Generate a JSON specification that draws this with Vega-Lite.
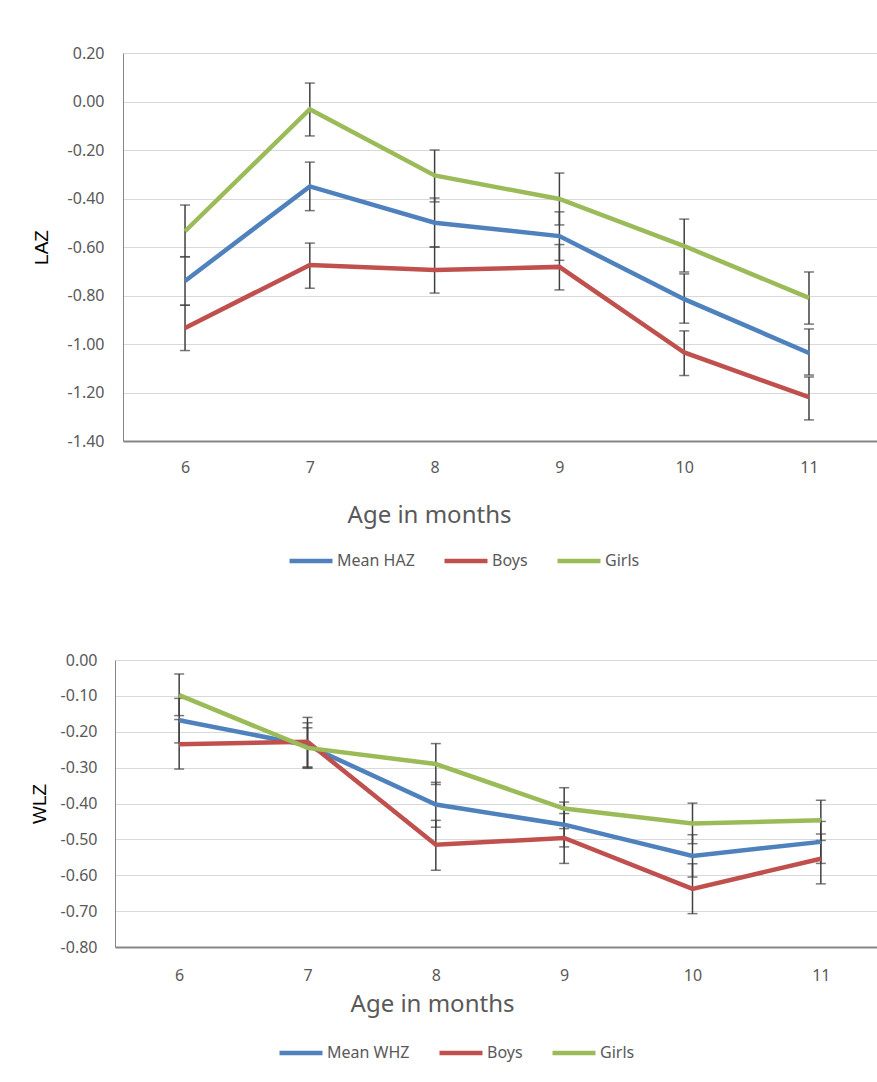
{
  "$schema": "https://vega.github.io/schema/vega-lite/v6.json",
  "padding": {"left": 30, "top": 45, "right": 0, "bottom": 0},
  "background": "white",
  "spacing": 82,
  "columns": 1,
  "align": "all",
  "center": true,
  "config": {
    "locale": {"number": {"decimal": ".", "thousands": ",", "grouping": [3], "currency": ["$", ""], "minus": "-"}},
    "view": {"stroke": null},
    "font": "Noto Sans",
    "axis": {"labelColor": "#595959", "labelFontSize": 16, "ticks": false, "gridColor": "#d9d9d9", "domainColor": "#868686", "labelOverlap": false}
  },
  "datasets": {
    "laz": [
      {"age": 6, "series": "Mean HAZ", "value": -0.74, "lo": -0.84, "hi": -0.64},
      {"age": 7, "series": "Mean HAZ", "value": -0.35, "lo": -0.45, "hi": -0.25},
      {"age": 8, "series": "Mean HAZ", "value": -0.50, "lo": -0.60, "hi": -0.398},
      {"age": 9, "series": "Mean HAZ", "value": -0.555, "lo": -0.655, "hi": -0.455},
      {"age": 10, "series": "Mean HAZ", "value": -0.815, "lo": -0.914, "hi": -0.711},
      {"age": 11, "series": "Mean HAZ", "value": -1.037, "lo": -1.128, "hi": -0.938},
      {"age": 6, "series": "Boys", "value": -0.934, "lo": -1.027, "hi": -0.84},
      {"age": 7, "series": "Boys", "value": -0.674, "lo": -0.77, "hi": -0.584},
      {"age": 8, "series": "Boys", "value": -0.695, "lo": -0.79, "hi": -0.60},
      {"age": 9, "series": "Boys", "value": -0.682, "lo": -0.777, "hi": -0.59},
      {"age": 10, "series": "Boys", "value": -1.035, "lo": -1.13, "hi": -0.946},
      {"age": 11, "series": "Boys", "value": -1.219, "lo": -1.313, "hi": -1.136},
      {"age": 6, "series": "Girls", "value": -0.535, "lo": -0.641, "hi": -0.427},
      {"age": 7, "series": "Girls", "value": -0.032, "lo": -0.142, "hi": 0.076},
      {"age": 8, "series": "Girls", "value": -0.305, "lo": -0.414, "hi": -0.20},
      {"age": 9, "series": "Girls", "value": -0.402, "lo": -0.509, "hi": -0.295},
      {"age": 10, "series": "Girls", "value": -0.596, "lo": -0.703, "hi": -0.485},
      {"age": 11, "series": "Girls", "value": -0.81, "lo": -0.918, "hi": -0.703}
    ],
    "wlz": [
      {"age": 6, "series": "Mean WHZ", "value": -0.168, "lo": -0.231, "hi": -0.107},
      {"age": 7, "series": "Mean WHZ", "value": -0.238, "lo": -0.298, "hi": -0.175},
      {"age": 8, "series": "Mean WHZ", "value": -0.403, "lo": -0.466, "hi": -0.341},
      {"age": 9, "series": "Mean WHZ", "value": -0.459, "lo": -0.521, "hi": -0.396},
      {"age": 10, "series": "Mean WHZ", "value": -0.546, "lo": -0.605, "hi": -0.487},
      {"age": 11, "series": "Mean WHZ", "value": -0.507, "lo": -0.567, "hi": -0.45},
      {"age": 6, "series": "Boys", "value": -0.235, "lo": -0.304, "hi": -0.166},
      {"age": 7, "series": "Boys", "value": -0.228, "lo": -0.30, "hi": -0.16},
      {"age": 8, "series": "Boys", "value": -0.515, "lo": -0.586, "hi": -0.447},
      {"age": 9, "series": "Boys", "value": -0.496, "lo": -0.567, "hi": -0.428},
      {"age": 10, "series": "Boys", "value": -0.638, "lo": -0.707, "hi": -0.568},
      {"age": 11, "series": "Boys", "value": -0.554, "lo": -0.624, "hi": -0.485},
      {"age": 6, "series": "Girls", "value": -0.098, "lo": -0.155, "hi": -0.039},
      {"age": 7, "series": "Girls", "value": -0.245, "lo": -0.302, "hi": -0.189},
      {"age": 8, "series": "Girls", "value": -0.29, "lo": -0.347, "hi": -0.233},
      {"age": 9, "series": "Girls", "value": -0.414, "lo": -0.47, "hi": -0.356},
      {"age": 10, "series": "Girls", "value": -0.456, "lo": -0.512, "hi": -0.399},
      {"age": 11, "series": "Girls", "value": -0.447, "lo": -0.503, "hi": -0.391}
    ]
  },
  "concat": [
    {
      "width": 754,
      "height": 388,
      "data": {"name": "laz"},
      "encoding": {
        "x": {
          "field": "age", "type": "ordinal", "scale": {"type": "point", "padding": 0.521, "align": 0.477},
          "axis": {"labelAngle": 0, "domainWidth": 2, "labelPadding": 18, "title": "Age in months", "titleFontSize": 24, "titleFontWeight": "normal", "titleColor": "#595959", "titleX": 306, "titleY": 74, "titleBaseline": "middle"}
        }
      },
      "layer": [
        {
          "mark": {"type": "errorbar", "ticks": {"size": 10}, "color": "#404040", "thickness": 1.5},
          "encoding": {
            "y": {"field": "lo", "type": "quantitative", "title": "LAZ", "scale": {"domain": [-1.4, 0.2]},
              "axis": {"values": [-1.4, -1.2, -1.0, -0.8, -0.6, -0.4, -0.2, 0, 0.2], "format": ".2f", "grid": true, "labelPadding": 19, "titleFont": "Liberation Sans", "titleFontSize": 19, "titleFontWeight": "normal", "titleColor": "#000000", "titlePadding": 16}},
            "y2": {"field": "hi"}
          }
        },
        {
          "mark": {"type": "line", "strokeWidth": 4.5},
          "encoding": {
            "y": {"field": "value", "type": "quantitative", "title": "LAZ",
              "axis": {"values": [-1.4, -1.2, -1.0, -0.8, -0.6, -0.4, -0.2, 0, 0.2], "format": ".2f", "grid": true, "labelPadding": 19, "titleFont": "Liberation Sans", "titleFontSize": 19, "titleFontWeight": "normal", "titleColor": "#000000", "titlePadding": 16}},
            "color": {"field": "series", "type": "nominal", "sort": ["Mean HAZ", "Boys", "Girls"],
              "scale": {"domain": ["Mean HAZ", "Boys", "Girls"], "range": ["#4F81BD", "#C0504D", "#9BBB59"]},
              "legend": {"orient": "none", "legendX": 164, "legendY": 484, "direction": "horizontal", "title": null, "symbolType": "stroke", "symbolStrokeWidth": 4.5, "symbolSize": 1849, "labelFontSize": 16, "labelColor": "#595959", "labelOffset": 2, "columnPadding": 20}}
          }
        }
      ]
    },
    {
      "width": 770,
      "height": 287,
      "data": {"name": "wlz"},
      "encoding": {
        "x": {
          "field": "age", "type": "ordinal", "scale": {"type": "point", "padding": 0.5},
          "axis": {"labelAngle": 0, "domainWidth": 2, "labelPadding": 20, "title": "Age in months", "titleFontSize": 24, "titleFontWeight": "normal", "titleColor": "#595959", "titleX": 317, "titleY": 57, "titleBaseline": "middle"}
        }
      },
      "layer": [
        {
          "mark": {"type": "errorbar", "ticks": {"size": 10}, "color": "#404040", "thickness": 1.5},
          "encoding": {
            "y": {"field": "lo", "type": "quantitative", "title": "WLZ", "scale": {"domain": [-0.8, 0]},
              "axis": {"values": [-0.8, -0.7, -0.6, -0.5, -0.4, -0.3, -0.2, -0.1, 0], "format": ".2f", "grid": true, "labelPadding": 18, "titleFont": "Liberation Sans", "titleFontSize": 19, "titleFontWeight": "normal", "titleColor": "#000000", "titlePadding": 11}},
            "y2": {"field": "hi"}
          }
        },
        {
          "mark": {"type": "line", "strokeWidth": 4.5},
          "encoding": {
            "y": {"field": "value", "type": "quantitative", "title": "WLZ",
              "axis": {"values": [-0.8, -0.7, -0.6, -0.5, -0.4, -0.3, -0.2, -0.1, 0], "format": ".2f", "grid": true, "labelPadding": 18, "titleFont": "Liberation Sans", "titleFontSize": 19, "titleFontWeight": "normal", "titleColor": "#000000", "titlePadding": 11}},
            "color": {"field": "series", "type": "nominal", "sort": ["Mean WHZ", "Boys", "Girls"],
              "scale": {"domain": ["Mean WHZ", "Boys", "Girls"], "range": ["#4F81BD", "#C0504D", "#9BBB59"]},
              "legend": {"orient": "none", "legendX": 162, "legendY": 369, "direction": "horizontal", "title": null, "symbolType": "stroke", "symbolStrokeWidth": 4.5, "symbolSize": 1849, "labelFontSize": 16, "labelColor": "#595959", "labelOffset": 2, "columnPadding": 20}}
          }
        }
      ]
    }
  ],
  "resolve": {"scale": {"color": "independent"}}
}
